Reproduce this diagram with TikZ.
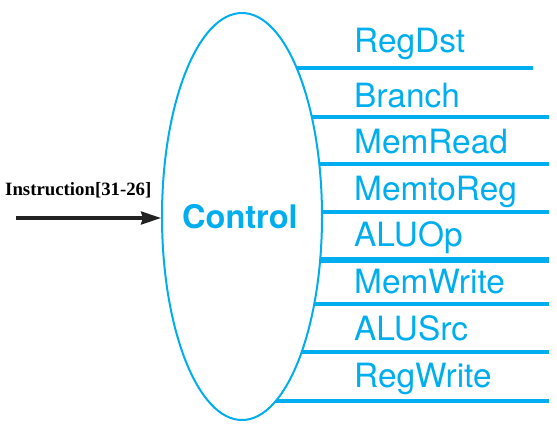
\documentclass[tikz,border=0pt]{standalone}
\usepackage{fontspec}
\setmainfont{TeX Gyre Heros}
\newfontfamily\instrfont{Liberation Serif}
\usetikzlibrary{shapes.geometric,arrows.meta}
\definecolor{ctlblue}{HTML}{00AEEF}
\definecolor{arrowgray}{HTML}{222222}
\pgfdeclarelayer{bg}
\pgfsetlayers{bg,main}
\tikzset{
  ctlunit/.style={ellipse, draw=ctlblue, line width=2pt, fill=white,
    minimum width=160pt, minimum height=407pt, inner sep=0pt},
  ctltextstyle/.style={anchor=base, inner sep=0pt, text=ctlblue,
    font=\fontsize{32.5}{36}\selectfont\bfseries},
  sigline/.style={draw=ctlblue, line width=3.2pt},
  sigthick/.style={draw=ctlblue, line width=6pt},
  siglabel/.style={anchor=base west, inner sep=0pt, text=ctlblue,
    font=\fontsize{33.4}{36}\selectfont},
  instrlabel/.style={anchor=base west, inner sep=0pt, text=black,
    font=\instrfont\fontsize{18.8}{22}\selectfont\bfseries},
  inarrow/.style={draw=arrowgray, line width=3.2pt,
    -{Stealth[length=20pt,width=13pt,inset=2pt]}}
}
\begin{document}
\begin{tikzpicture}[x=1pt,y=-1pt]
\useasboundingbox (0,0) rectangle (557,429);
\node[ctlunit] (ctrl) at (242,216.5) {};
\node[ctltextstyle] (ctltext) at (240,228) {Control};
% output signal line ends
\coordinate (e1) at (533,68);
\coordinate (e2) at (549,117);
\coordinate (e3) at (549,164);
\coordinate (e4) at (549,212);
\coordinate (e5) at (549,260);
\coordinate (e6) at (549,304);
\coordinate (e7) at (549,352);
\coordinate (e8) at (549,401);
\begin{pgfonlayer}{bg}
\draw[sigline] (ctrl.center |- e1) -- (e1);
\draw[sigline] (ctrl.center |- e2) -- (e2);
\draw[sigline] (ctrl.center |- e3) -- (e3);
\draw[sigline] (ctrl.center |- e4) -- (e4);
\draw[sigthick] (ctrl.center |- e5) -- (e5);
\draw[sigline] (ctrl.center |- e6) -- (e6);
\draw[sigline] (ctrl.center |- e7) -- (e7);
\draw[sigline] (ctrl.center |- e8) -- (e8);
\end{pgfonlayer}
\node[siglabel] (l1) at (354,52) {RegDst};
\node[siglabel] (l2) at (354,107) {Branch};
\node[siglabel] (l3) at (354,153) {MemRead};
\node[siglabel] (l4) at (354,200) {MemtoReg};
\node[siglabel] (l5) at (354,246) {ALUOp};
\node[siglabel] (l6) at (354,293) {MemWrite};
\node[siglabel] (l7) at (354,340) {ALUSrc};
\node[siglabel] (l8) at (354,387) {RegWrite};
% input
\node[instrlabel] (instr) at (5,195) {Instruction[31-26]};
\coordinate (in) at (16,218);
\draw[inarrow] (in) -- (in -| ctrl.west);
\end{tikzpicture}
\end{document}
